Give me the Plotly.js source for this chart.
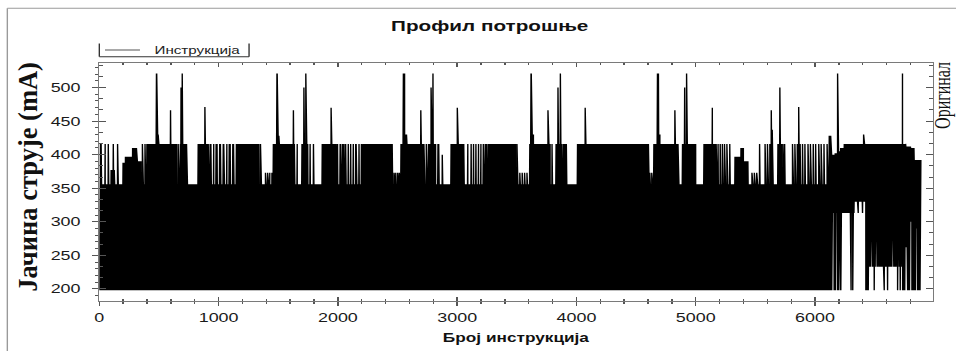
<!DOCTYPE html>
<html>
<head>
<meta charset="utf-8">
<script src="https://cdn.plot.ly/plotly-3.0.1.min.js"></script>
<style>
  html, body { margin: 0; padding: 0; background: #fff; overflow: hidden; width: 956px; height: 351px; }
  /* the chart is laid out narrow and widened horizontally */
  #chart { width: 693px; height: 351px; transform: scaleX(1.37951); transform-origin: 0 0; }
</style>
</head>
<body>
<div id="chart"></div>
<script>
// Current profile per executed instruction: every instruction swings between
// a lower and an upper level, and both levels change in runs.
const N = 6888;
const LOW = 198, BASE = 356, HIGH = 416;
const WIDEN = 1.37951;

// runs where the upper level is 416 mA (elsewhere 356 mA)
const hiFrom = [0, 396, 675, 829, 925, 950, 978, 1005, 1033, 1060, 1088, 1115, 1147, 1454, 1492, 1690, 1867,
  1990, 2015, 2037, 2057, 2080, 2100, 2122, 2145, 2170, 2190, 2208, 2526, 2755, 2830, 2945,
  3082, 3110, 3130, 3150, 3172, 3192, 3215, 3237, 3255, 3266, 3605, 3820, 3885, 4003, 4642, 4880, 5066, 5680];
const hiTo = [15, 648, 731, 913, 935, 960, 988, 1015, 1043, 1070, 1098, 1125, 1329, 1482, 1636, 1747, 1985,
  1998, 2023, 2045, 2065, 2088, 2108, 2130, 2153, 2178, 2198, 2456, 2722, 2820, 2845, 3056,
  3090, 3118, 3138, 3158, 3180, 3200, 3223, 3245, 3262, 3490, 3780, 3875, 3915, 4603, 4852, 5000, 5172, 5720];

// plateaus at other upper levels
const midFrom = [98, 193, 210, 271, 313, 472, 1488, 2555, 3620, 4683, 5326, 5372, 5400];
const midTo = [126, 210, 271, 313, 349, 494, 1506, 2575, 3640, 4700, 5372, 5400, 5437];
const midLevel = [377, 388, 397, 410, 390, 430, 428, 430, 430, 430, 397, 410, 390];

// peaks above the plateaus
const peakFrom = [471, 597, 684, 695, 885, 1482, 1627, 1714, 1731, 1943, 2549, 2694, 2780, 2797, 3001,
  3612, 3760, 3844, 3864, 4072, 4676, 4824, 4907, 4922, 5139, 5633, 5641, 5705, 5862, 6189, 6406, 6733];
const peakTo = [482, 598, 685, 696, 886, 1492, 1628, 1715, 1732, 1944, 2560, 2695, 2781, 2798, 3002,
  3622, 3761, 3845, 3865, 4073, 4688, 4825, 4908, 4923, 5140, 5634, 5642, 5706, 5863, 6190, 6407, 6734];
const peakLevel = [521, 466, 500, 521, 471, 521, 466, 500, 521, 470, 521, 466, 500, 521, 470,
  521, 466, 500, 521, 470, 521, 466, 500, 521, 470, 466, 437, 500, 471, 521, 430, 521];

// isolated instructions with a raised upper level
const pulseAt = [48, 75, 117, 153, 360, 382, 661, 1337, 1350, 1392, 1410, 1428, 1446, 1658, 1767, 1795,
  2470, 2485, 2500, 2515, 2741, 2875, 3500, 3525, 3545, 3565, 3585, 3795, 4615, 4630,
  5187, 5205, 5222, 5240, 5260, 5284, 5470, 5490, 5510, 5535, 5580, 5600, 5620, 5730, 5745,
  5810, 5830, 5850, 5875, 5895, 5915, 5940, 5960, 5985, 6005, 6030, 6050, 6075, 6100];
const pulseLevel = [416, 416, 416, 416, 416, 416, 416, 416, 416, 373, 373, 373, 373, 416, 416, 416,
  373, 373, 373, 373, 416, 400, 416, 373, 373, 373, 373, 416, 373, 373,
  416, 416, 416, 416, 416, 416, 373, 373, 373, 416, 416, 416, 416, 416, 416,
  416, 416, 416, 416, 416, 416, 416, 416, 416, 416, 416, 416, 416, 416];

// last part of the run: both swing levels vary
const tailFrom = [6119, 6133, 6148, 6160, 6176, 6188, 6204, 6214, 6226, 6245, 6330, 6426, 6454,
  6733, 6760, 6775, 6800, 6812, 6830, 6850, 6860];
const tailLow = [198, 198, 313, 198, 313, 198, 313, 198, 313, 313, 330, 198, 327,
  198, 262, 198, 300, 198, 198, 290, 198];
const tailHigh = [428, 400, 400, 402, 402, 405, 405, 410, 410, 416, 416, 416, 416,
  416, 412, 412, 410, 410, 392, 392, 392];

// isolated instructions with a lowered level in the last part
const dipAt = [6301, 6315, 6362, 6398,
  6458, 6464, 6472, 6480, 6486, 6496, 6504, 6512, 6520, 6528, 6540, 6548, 6556, 6566, 6574, 6580,
  6590, 6598, 6608, 6616, 6626, 6634, 6644, 6652, 6660, 6670, 6680, 6691, 6698, 6706, 6713, 6722];
const dipLevel = [198, 198, 313, 313,
  233, 233, 233, 233, 233, 198, 233, 233, 233, 233, 233, 233, 233, 233, 233, 198,
  233, 233, 198, 233, 233, 233, 233, 233, 233, 233, 233, 198, 233, 233, 198, 233];

const upper = new Array(N).fill(BASE);
const lower = new Array(N).fill(LOW);
hiFrom.forEach((a, k) => { for (let i = a; i <= hiTo[k]; i++) upper[i] = HIGH; });
midFrom.forEach((a, k) => { for (let i = a; i <= midTo[k]; i++) upper[i] = midLevel[k]; });
tailFrom.forEach((a, k) => {
  const b = k + 1 < tailFrom.length ? tailFrom[k + 1] : N;
  for (let i = a; i < b; i++) { lower[i] = tailLow[k]; upper[i] = tailHigh[k]; }
});
peakFrom.forEach((a, k) => { for (let i = a; i <= peakTo[k]; i++) if (i % 2 === 1) upper[i] = peakLevel[k]; });
// odd instructions carry the upper level, even ones the lower level
pulseAt.forEach((i, k) => { upper[i % 2 === 1 ? i : i + 1] = pulseLevel[k]; });
dipAt.forEach((i, k) => { lower[i % 2 === 0 ? i : i + 1] = dipLevel[k]; });

const current = upper.map((u, i) => (i % 2 === 1 ? u : lower[i]));
const instr = current.map((_, i) => i);

const sans = 'Liberation Sans, Arial, sans-serif';
const serif = 'Liberation Serif, Times New Roman, serif';
const axisGrey = '#7a7a7a';
const tickGrey = '#555';
const xRange = [0, 6985];
const yRange = [182, 536.5];

const traces = [
  { x: instr, y: current, type: 'scatter', mode: 'lines', name: 'Инструкција',
    line: { color: '#000', width: 1 }, showlegend: false, hoverinfo: 'skip' },
  { x: [], y: [], type: 'scatter', mode: 'lines', xaxis: 'x2', yaxis: 'y2', showlegend: false, hoverinfo: 'skip' }
];

const frame = { color: '#9a9a9a', width: 1 };
const legendLine = { color: '#333', width: 1 };

const layout = {
  width: 693, height: 351,
  margin: { l: 72, r: 17, t: 63, b: 50 },
  paper_bgcolor: '#fff', plot_bgcolor: '#fff',
  showlegend: false,
  title: { text: 'Профил потрошње', x: 355 / 693, xanchor: 'center', xref: 'container',
    y: 1 - 26 / 351, yanchor: 'middle', yref: 'container',
    font: { family: sans, size: 15, color: '#111', weight: 700 } },
  xaxis: {
    range: xRange, tick0: 0, dtick: 1000, showgrid: false, zeroline: false,
    showline: true, linecolor: axisGrey, linewidth: 1,
    ticks: 'outside', ticklen: 4, tickcolor: tickGrey, tickwidth: 1,
    minor: { dtick: 200, ticks: 'outside', ticklen: 2, tickcolor: tickGrey },
    tickfont: { family: sans, size: 13, color: '#1a1a1a' }
  },
  xaxis2: {
    overlaying: 'x', anchor: 'y', side: 'top', range: xRange, tick0: 0, dtick: 1000,
    showgrid: false, zeroline: false, showticklabels: false,
    showline: true, linecolor: axisGrey, linewidth: 1, mirror: 'ticks',
    ticks: 'inside', ticklen: 4, tickcolor: tickGrey,
    minor: { dtick: 200, ticks: 'inside', ticklen: 2, tickcolor: tickGrey }
  },
  yaxis: {
    range: yRange, tick0: 0, dtick: 50, showgrid: false, zeroline: false,
    showline: true, linecolor: axisGrey, linewidth: 1,
    ticks: 'outside', ticklen: 4, tickcolor: tickGrey,
    minor: { dtick: 10, ticks: 'outside', ticklen: 2, tickcolor: tickGrey },
    ticklabelstandoff: 6,
    tickfont: { family: sans, size: 13, color: '#1a1a1a' }
  },
  yaxis2: {
    overlaying: 'y', anchor: 'x', side: 'right', range: yRange, tick0: 0, dtick: 50,
    showgrid: false, zeroline: false, showticklabels: false,
    showline: true, linecolor: axisGrey, linewidth: 1, mirror: 'ticks',
    ticks: 'inside', ticklen: 5, tickcolor: tickGrey,
    minor: { dtick: 50 / 3, ticks: 'inside', ticklen: 2.5, tickcolor: tickGrey }
  },
  shapes: [
    { type: 'line', xref: 'paper', yref: 'paper', x0: -0.1104, x1: -0.1104, y0: -0.6, y1: 1.2298, line: frame },
    { type: 'line', xref: 'paper', yref: 'paper', x0: -0.1104, x1: 1.2, y0: 1.2298, y1: 1.2298, line: frame },
    { type: 'line', xref: 'paper', yref: 'paper', x0: 0, x1: 0, y0: 1.0265, y1: 1.0819, line: legendLine },
    { type: 'line', xref: 'paper', yref: 'paper', x0: 0, x1: 0.1797, y0: 1.0265, y1: 1.0265, line: legendLine },
    { type: 'line', xref: 'paper', yref: 'paper', x0: 0.1797, x1: 0.1797, y0: 1.0265, y1: 1.0819, line: legendLine },
    { type: 'line', xref: 'paper', yref: 'paper', x0: 0.0068, x1: 0.0488, y0: 1.0546, y1: 1.0546,
      line: { color: '#555', width: 1 } }
  ],
  annotations: [
    { text: 'Инструкција', xref: 'paper', yref: 'paper', x: 0.0632, y: 1.0546, xanchor: 'left', yanchor: 'middle',
      showarrow: false, font: { family: sans, size: 11, color: '#222' } },
    { text: 'Јачина струје (mA)', xref: 'paper', yref: 'paper', x: -0.085, y: 0.521, xanchor: 'center', yanchor: 'middle',
      textangle: -90, showarrow: false, font: { family: serif, size: 26.5, color: '#111', weight: 700 } },
    { text: 'Оригинал', xref: 'paper', yref: 'paper', x: 1.0121, y: 0.863, xanchor: 'center', yanchor: 'middle',
      textangle: -90, showarrow: false, font: { family: serif, size: 16, color: '#111' } },
    { text: 'Број инструкција', xref: 'paper', yref: 'paper', x: 0.5, y: -0.1555, xanchor: 'center', yanchor: 'middle',
      showarrow: false, font: { family: sans, size: 12.5, color: '#111', weight: 700 } }
  ]
};

Plotly.newPlot('chart', traces, layout, { displayModeBar: false, staticPlot: true }).then(gd => {
  // the vertical axis title keeps its natural glyph proportions under the widening
  const ann = gd.querySelector('.annotation[data-index="1"]');
  if (!ann) return;
  ann.querySelectorAll('[transform]').forEach(el => {
    const t = el.getAttribute('transform');
    const m = /rotate\(\s*(-?[\d.]+)[\s,]+(-?[\d.]+)[\s,]+(-?[\d.]+)\s*\)/.exec(t);
    if (!m) return;
    const cy = parseFloat(m[3]);
    const k = 1 / WIDEN;
    el.setAttribute('transform', t + ' translate(0,' + cy + ') scale(1,' + k + ') translate(0,' + (-cy) + ')');
  });
});
</script>
</body>
</html>
